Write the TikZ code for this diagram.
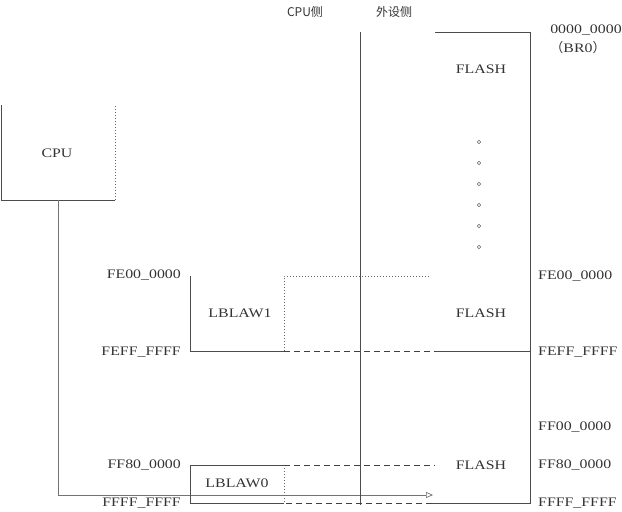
\documentclass[tikz,border=0pt]{standalone}
\usepackage{fontspec}
\setmainfont[FakeStretch=1.22]{Liberation Serif}
\newfontfamily\cjk{Noto Sans CJK SC}
\usetikzlibrary{arrows.meta}
\begin{document}
\begin{tikzpicture}[x=1pt,y=-1pt,
  lbl/.style={font=\fontsize{13}{15}\selectfont, inner sep=0pt, text=black!80},
  cjklbl/.style={font=\cjk\fontsize{12}{14}\selectfont, inner sep=0pt, text=black!80},
  edge/.style={draw=black!70, line width=0.9pt},
  dashln/.style={draw=black!75, line width=0.8pt, dash pattern=on 6pt off 4pt},
  dotln/.style={draw=black!60, line width=0.7pt, dash pattern=on 0.8pt off 2.2pt},
  dotc/.style={circle, draw=black!60, line width=0.5pt, minimum size=3.5pt, inner sep=0pt},
  bus/.style={draw=black!55, line width=0.7pt, -{Triangle[open,length=7pt,width=6pt]}}]
\useasboundingbox (0,0) rectangle (622,512);

% headers
\node[cjklbl] (hcpu) at (305,12) {CPU侧};
\node[cjklbl] (hper) at (394,12) {外设侧};

% CPU box
\coordinate (cpuTL) at (1,105);
\coordinate (cpuBL) at (1,200);
\coordinate (cpuBR) at (115,200);
\coordinate (cpuTR) at (115,105);
\draw[edge] (cpuTL) -- (cpuBL) -- (cpuBR);
\draw[dotln] (cpuBR) -- (cpuTR);
\node[lbl] (cpu) at (57,153) {CPU};

% bus arrow
\coordinate (busTop) at (58,200);
\coordinate (busCorner) at (58,495);
\coordinate (busEnd) at (433,495);
\draw[bus] (busTop) -- (busCorner) -- (busEnd);

% divider
\coordinate (divT) at (360,32);
\coordinate (divB) at (360,505);
\draw[edge] (divT) -- (divB);

% peripheral region
\coordinate (fT1) at (435,32);
\coordinate (fTR) at (530,32);
\coordinate (fBR) at (530,503);
\coordinate (b2) at (432,503);
\coordinate (b1) at (284,503);
\coordinate (b0) at (190,503);
\draw[edge] (fT1) -- (fTR) -- (fBR) -- (b2);
\draw[dashln] (b2) -- (b1);

% LBLAW0 box
\coordinate (w0TL) at (190,465);
\coordinate (w0TR) at (284,465);
\coordinate (w0D) at (435,465);
\draw[edge] (b1) -- (b0) -- (w0TL) -- (w0TR);
\draw[dotln] (w0TR) -- (b1);
\draw[dashln] (w0TR) -- (w0D);
\node[lbl] (lblaw0) at (237,483) {LBLAW0};

% LBLAW1 box
\coordinate (w1TL) at (190,276);
\coordinate (w1BL) at (190,351);
\coordinate (w1BR) at (284,351);
\coordinate (w1TR) at (284,276);
\coordinate (w1D) at (430,276);
\coordinate (w1E) at (436,351);
\coordinate (w1R) at (530,351);
\draw[edge] (w1TL) -- (w1BL) -- (w1BR);
\draw[dotln] (w1BR) -- (w1TR) -- (w1D);
\draw[dashln] (w1BR) -- (w1E);
\draw[edge] (w1E) -- (w1R);
\node[lbl] (lblaw1) at (240,313) {LBLAW1};

% FLASH labels
\node[lbl] (fl1) at (481,69) {FLASH};
\node[lbl] (fl2) at (481,313) {FLASH};
\node[lbl] (fl3) at (481,465) {FLASH};

% dots
\foreach \i [count=\k] in {142,163,184,205,226,247}
  \node[dotc] (dot\k) at (479,\i) {};

% top-right address
\node[lbl] (a0) at (586,30) {0000\_0000};
\node[lbl] (br0) at (578,48) {{\cjk （}BR0{\cjk ）}};

% left addresses
\node[lbl, anchor=east] (lfe00) at (181,275) {FE00\_0000};
\node[lbl, anchor=east] (lfeff) at (181,352) {FEFF\_FFFF};
\node[lbl, anchor=east] (lff80) at (181,465) {FF80\_0000};
\node[lbl, anchor=east] (lffff) at (181,503) {FFFF\_FFFF};

% right addresses
\node[lbl, anchor=west] (rfe00) at (538,276) {FE00\_0000};
\node[lbl, anchor=west] (rfeff) at (538,352) {FEFF\_FFFF};
\node[lbl, anchor=west] (rff00) at (538,427) {FF00\_0000};
\node[lbl, anchor=west] (rff80) at (538,465) {FF80\_0000};
\node[lbl, anchor=west] (rffff) at (538,503) {FFFF\_FFFF};
\end{tikzpicture}
\end{document}
